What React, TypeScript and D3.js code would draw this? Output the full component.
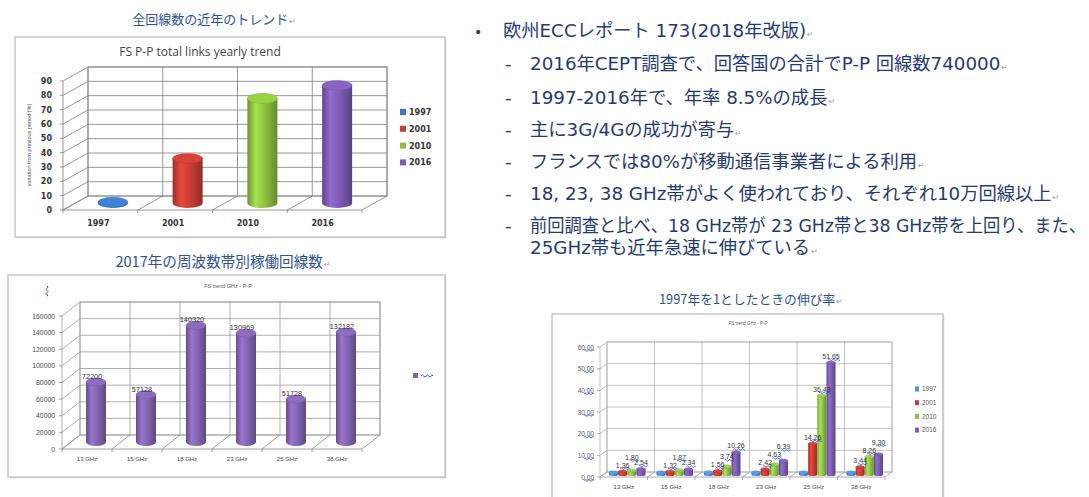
import React, { useRef, useLayoutEffect } from 'react';
import * as d3 from 'd3';

// ---------- DATA ----------
const yearSeries = ['1997', '2001', '2010', '2016'];
const totalTrendValues = [0.5, 31, 73, 82];
const totalTrendTicks = [0, 10, 20, 30, 40, 50, 60, 70, 80, 90];

const bandCategories = ['13 GHz', '15 GHz', '18 GHz', '23 GHz', '25 GHz', '38 GHz'];
const bandLinks2017 = [72200, 57128, 140320, 130969, 51728, 132182];
const bandLinkTicks = [0, 20000, 40000, 60000, 80000, 100000, 120000, 140000, 160000];

const growth1997 = [1, 1, 1, 1, 1, 1];
const growth2001 = [1.36, 1.32, 1.56, 2.42, 14.26, 3.44];
const growth2010 = [1.8, 1.87, 3.74, 4.63, 36.43, 8.26];
const growth2016 = [2.54, 2.34, 10.26, 6.39, 51.65, 9.3];
const growthLabelSeries = [false, true, true, true];
const growthTicks = [0, 10, 20, 30, 40, 50, 60];

const bulletTitle = '欧州ECCレポート 173(2018年改版)';
const bulletItems = [
  ['2016年CEPT調査で、回答国の合計でP-P 回線数740000'],
  ['1997-2016年で、年率 8.5%の成長'],
  ['主に3G/4Gの成功が寄与'],
  ['フランスでは80%が移動通信事業者による利用'],
  ['18, 23, 38 GHz帯がよく使われており、それぞれ10万回線以上'],
  ['前回調査と比べ、18 GHz帯が 23 GHz帯と38 GHz帯を上回り、また、', '25GHz帯も近年急速に伸びている'],
];

const heading1 = '全回線数の近年のトレンド';
const heading2 = '2017年の周波数帯別稼働回線数';
const heading3 = '1997年を1としたときの伸び率';
const chart1Title = 'FS P-P total links yearly trend';
const chart1YTitle = 'variation from previous period (%)';
const chart23Title = 'FS trend GHz - P-P';

// ---------- STYLE ----------
const seriesColors = ['#3a78c4', '#c63d35', '#8dc040', '#7d5bb3'];
const growthColors = ['#4f93d4', '#cc3b33', '#8fc446', '#7b5cb0'];
const bandColor = '#8264b0';
const headingColor = '#2c5193';
const textColor = '#1f3a74';
const jpFont = '"Noto Sans CJK JP", "Noto Sans", sans-serif';
const bodyFont = '"DejaVu Sans", "Noto Sans CJK JP", sans-serif';
const lat = '"Liberation Sans", Arial, sans-serif';
const textMaxRight = 1086;

function squiggle(x1: number, x2: number, y: number, amp = 1.1, period = 2.6) {
  let d = `M${x1},${y}`;
  let up = true;
  for (let x = x1; x < x2 - 0.01; x += period) {
    const nx = Math.min(x + period, x2);
    d += ` Q${(x + nx) / 2},${y + (up ? -amp : amp) * 2} ${nx},${y}`;
    up = !up;
  }
  return d;
}

function Gradients({ colors, prefix }: { colors: string[]; prefix: string }) {
  return (
    <>
      {colors.map((c, i) => {
        const base = d3.color(c)!;
        return (
          <linearGradient key={i} id={`${prefix}${i}`} x1="0" x2="1" y1="0" y2="0">
            <stop offset="0" stopColor={base.darker(0.7).formatHex()} />
            <stop offset="0.28" stopColor={base.brighter(0.45).formatHex()} />
            <stop offset="0.6" stopColor={base.formatHex()} />
            <stop offset="1" stopColor={base.darker(0.9).formatHex()} />
          </linearGradient>
        );
      })}
    </>
  );
}

function Cylinder({ cx, yBase, yTop, r, ry, fill, color }: any) {
  const body = `M${cx - r},${yTop} L${cx - r},${yBase} A${r},${ry} 0 0 0 ${cx + r},${yBase} L${cx + r},${yTop} Z`;
  const top = d3.color(color)!.brighter(0.25).formatHex();
  return (
    <g>
      <path d={body} fill={fill} />
      <ellipse cx={cx} cy={yTop} rx={r} ry={ry} fill={top} stroke={d3.color(color)!.darker(0.4).formatHex()} strokeWidth={0.4} />
    </g>
  );
}

function Frame3D({ x, y, ticks, dx, dy, grid, floor, tickLen = 3 }: any) {
  const [xa, xb] = x.range();
  const n = x.domain().length;
  const cw = (xb - xa) / n;
  const y0 = y(0);
  const yt = y(ticks[ticks.length - 1]);
  const bounds = d3.range(n + 1).map((i) => xa + i * cw);
  return (
    <g strokeWidth={0.8} fill="none">
      <rect x={xa + dx} y={yt + dy} width={xb - xa} height={y0 - yt} fill="#fff" stroke={grid} />
      {ticks.map((t: number) => (
        <line key={'h' + t} x1={xa + dx} x2={xb + dx} y1={y(t) + dy} y2={y(t) + dy} stroke={grid} />
      ))}
      {bounds.map((b, i) => (
        <line key={'v' + i} x1={b + dx} x2={b + dx} y1={yt + dy} y2={y0 + dy} stroke={grid} />
      ))}
      {ticks.map((t: number) => (
        <line key={'s' + t} x1={xa} y1={y(t)} x2={xa + dx} y2={y(t) + dy} stroke={grid} />
      ))}
      <line x1={xa} y1={y0} x2={xa} y2={yt} stroke={grid} />
      {bounds.map((b, i) => (
        <line key={'f' + i} x1={b} y1={y0} x2={b + dx} y2={y0 + dy} stroke={floor} />
      ))}
      <line x1={xa} x2={xb} y1={y0} y2={y0} stroke={floor} />
      {ticks.map((t: number) => (
        <line key={'t' + t} x1={xa - tickLen} x2={xa} y1={y(t)} y2={y(t)} stroke={floor} />
      ))}
      {bounds.map((b, i) => (
        <line key={'tb' + i} x1={b} x2={b} y1={y0} y2={y0 + tickLen} stroke={floor} />
      ))}
    </g>
  );
}

function Box({ x, y, w, h }: any) {
  return (
    <g>
      <rect x={x + 1.5} y={y + 1.5} width={w} height={h} fill="#e4e4e4" />
      <rect x={x} y={y} width={w} height={h} fill="#fff" stroke="#b8b8b8" strokeWidth={1.2} />
    </g>
  );
}

const Ret = () => (
  <tspan fontFamily='"DejaVu Sans"' fontSize={8} fill="#9a9a9a" dx={1}>↵</tspan>
);

// ---------- CHART 1 ----------
function Chart1() {
  const dx = 25, dy = -14;
  const x = d3.scaleBand().domain(yearSeries).range([63, 362]);
  const y = d3.scaleLinear().domain([0, 90]).range([210, 81]);
  return (
    <g>
      <text x={214} y={24} textAnchor="middle" fontFamily={jpFont} fontSize={13} fill={headingColor}>
        {heading1}<Ret />
      </text>
      <Box x={15} y={37} w={430} h={200} />
      <text x={200} y={56} textAnchor="middle" fontFamily='"Open Sans", sans-serif' fontSize={12} fill="#444">
        {chart1Title}
      </text>
      <Frame3D x={x} y={y} ticks={totalTrendTicks} dx={dx} dy={dy} grid="#7d7d7d" floor="#7d7d7d" />
      {totalTrendTicks.map((t) => (
        <text key={t} x={52} y={y(t) + 3} textAnchor="end" fontFamily='"DejaVu Sans"' fontWeight="bold" fontSize={8} fill="#333">
          {t}
        </text>
      ))}
      <text transform={`translate(31,${145}) rotate(-90)`} textAnchor="middle" fontFamily={lat} fontSize={5.5} fill="#555">
        {chart1YTitle}
      </text>
      {yearSeries.map((s, i) => {
        const cx = x(s)! + x.bandwidth() / 2 + dx / 2;
        const yBase = y(0) + dy / 2;
        const yTop = y(totalTrendValues[i]) + dy / 2;
        return <Cylinder key={s} cx={cx} yBase={yBase} yTop={yTop} r={15} ry={5} fill={`url(#c1g${i})`} color={seriesColors[i]} />;
      })}
      {yearSeries.map((s) => (
        <text key={s} x={x(s)! + x.bandwidth() / 2 - 2} y={226} textAnchor="middle" fontFamily='"DejaVu Sans"' fontWeight="bold" fontSize={8} fill="#333">
          {s}
        </text>
      ))}
      {yearSeries.map((s, i) => (
        <g key={s} transform={`translate(400,${112 + i * 16.8})`}>
          <rect x={0} y={-3} width={6} height={6} fill={seriesColors[i]} />
          <text x={9} y={3} fontFamily='"DejaVu Sans"' fontWeight="bold" fontSize={8} fill="#333">{s}</text>
        </g>
      ))}
    </g>
  );
}

// ---------- CHART 2 ----------
function Chart2() {
  const dx = 18, dy = -14;
  const x = d3.scaleBand().domain(bandCategories).range([62, 362]);
  const y = d3.scaleLinear().domain([0, 160000]).range([449, 316]);
  return (
    <g>
      <text x={223} y={267} textAnchor="middle" fontFamily={jpFont} fontSize={14.6} fill={headingColor}>
        {heading2}<Ret />
      </text>
      <Box x={8} y={275} w={437} h={202} />
      <text x={228} y={288} textAnchor="middle" fontFamily={lat} fontSize={5.5} fill="#555">{chart23Title}</text>
      <path d={squiggle(0, 10, 0, 1, 2.2)} transform="translate(47,286) rotate(90)" stroke="#4a3fb0" fill="none" strokeWidth={1} />
      <Frame3D x={x} y={y} ticks={bandLinkTicks} dx={dx} dy={dy} grid="#9c9c9c" floor="#8a8a8a" />
      {bandLinkTicks.map((t) => (
        <text key={t} x={55} y={y(t) + 2.5} textAnchor="end" fontFamily={lat} fontSize={6.8} fill="#444">{t}</text>
      ))}
      {bandCategories.map((c, i) => {
        const cx = x(c)! + x.bandwidth() / 2 + dx / 2;
        const yBase = y(0) + dy / 2;
        const yTop = y(bandLinks2017[i]) + dy / 2;
        return (
          <g key={c}>
            <Cylinder cx={cx} yBase={yBase} yTop={yTop} r={10} ry={4} fill="url(#c2g0)" color={bandColor} />
            <text x={cx - 4} y={yTop - 3} textAnchor="middle" fontFamily={lat} fontSize={7.3} fill="#333">{bandLinks2017[i]}</text>
          </g>
        );
      })}
      {bandCategories.map((c) => (
        <text key={c} x={x(c)! + x.bandwidth() / 2} y={461} textAnchor="middle" fontFamily={lat} fontSize={6} fill="#444">{c}</text>
      ))}
      <rect x={413} y={373} width={5} height={5} fill={bandColor} />
      <path d={squiggle(421, 433, 376)} stroke="#4a3fb0" fill="none" strokeWidth={1} />
    </g>
  );
}

// ---------- CHART 3 ----------
function Chart3() {
  const dx = 7, dy = -5;
  const series = [growth1997, growth2001, growth2010, growth2016];
  const x = d3.scaleBand().domain(bandCategories).range([600, 885]);
  const inner = d3.scaleBand().domain(yearSeries).range([0, x.bandwidth()]).paddingInner(0.02).paddingOuter(0.6);
  const y = d3.scaleLinear().domain([0, 60]).range([477, 347]);
  const fmt = d3.format('.2f');
  return (
    <g>
      <text x={751} y={304} textAnchor="middle" fontFamily={jpFont} fontSize={12.8} fill={headingColor}>
        {heading3}<Ret />
      </text>
      <Box x={552} y={314} w={391} h={195} />
      <text x={748} y={325} textAnchor="middle" fontFamily={lat} fontSize={4.5} fill="#555">{chart23Title}</text>
      <Frame3D x={x} y={y} ticks={growthTicks} dx={dx} dy={dy} grid="#b3b3b3" floor="#9a9a9a" tickLen={3} />
      {growthTicks.map((t) => (
        <g key={t}>
          <text x={594} y={y(t) + 2.5} textAnchor="end" fontFamily={lat} fontSize={6.5} fill="#556">{fmt(t)}</text>
          <path d={squiggle(584, 594, y(t) + 3.5, 0.8, 2)} stroke="#2a46d6" fill="none" strokeWidth={0.8} />
        </g>
      ))}
      {bandCategories.map((c, ci) => {
        const labels: { x: number; y: number; text: string }[] = [];
        return (
          <g key={c}>
            {yearSeries.map((s, si) => {
              const v = series[si][ci];
              const cx = x(c)! + inner(s)! + inner.bandwidth() / 2 + dx / 2;
              const yBase = y(0) + dy / 2;
              const yTop = y(v) + dy / 2;
              return <Cylinder key={s} cx={cx} yBase={yBase} yTop={yTop} r={inner.bandwidth() / 2} ry={1.6} fill={`url(#c3g${si})`} color={growthColors[si]} />;
            })}
            {yearSeries.map((s, si) => {
              if (!growthLabelSeries[si]) return null;
              const v = series[si][ci];
              const cx = x(c)! + inner(s)! + inner.bandwidth() / 2 + dx / 2;
              let ly = y(v) + dy / 2 - 4;
              const prev = labels[labels.length - 1];
              if (prev && Math.abs(prev.y - ly) < 5) ly = prev.y - 8;
              const text = fmt(v);
              labels.push({ x: cx, y: ly, text });
              const w = text.length * 3.6;
              return (
                <g key={s}>
                  <text x={cx} y={ly} textAnchor="middle" fontFamily={lat} fontSize={7} fill="#333">{text}</text>
                  <path d={squiggle(cx - w / 2 + w * 0.35, cx + w / 2, ly + 1.2, 0.8, 2)} stroke="#2a46d6" fill="none" strokeWidth={0.8} />
                </g>
              );
            })}
          </g>
        );
      })}
      {bandCategories.map((c) => (
        <text key={c} x={x(c)! + x.bandwidth() / 2} y={489} textAnchor="middle" fontFamily={lat} fontSize={6} fill="#444">{c}</text>
      ))}
      {yearSeries.map((s, i) => (
        <g key={s} transform={`translate(915,${389 + i * 13.7})`}>
          <rect x={0} y={-2.5} width={4} height={5} fill={growthColors[i]} />
          <text x={7} y={2.3} fontFamily={lat} fontSize={6.5} fill="#555">{s}</text>
        </g>
      ))}
    </g>
  );
}

// ---------- TEXT ----------
function FitText({ x, y, children }: any) {
  const ref = useRef<SVGTextElement>(null);
  useLayoutEffect(() => {
    const el = ref.current;
    if (!el) return;
    el.removeAttribute('textLength');
    const w = el.getComputedTextLength();
    const max = textMaxRight - x;
    if (w > max) {
      el.setAttribute('textLength', String(max));
      el.setAttribute('lengthAdjust', 'spacingAndGlyphs');
    }
  });
  return <text ref={ref} x={x} y={y}>{children}</text>;
}

function TextBlock() {
  const lineYs = [37, 70, 104, 136, 168, 200, 232, 254];
  let li = 1;
  return (
    <g fontFamily={bodyFont} fontSize={18.3} fill={textColor}>
      <text x={474} y={lineYs[0]} fontSize={14}>•</text>
      <text x={503} y={lineYs[0]}>{bulletTitle}<Ret /></text>
      {bulletItems.map((item, k) => {
        const start = li;
        li += item.length;
        return (
          <g key={k}>
            <text x={505} y={lineYs[start]}>-</text>
            {item.map((line, j) => (
              <FitText key={j} x={530} y={lineYs[start + j]}>
                {line}
                {j === item.length - 1 ? <Ret /> : null}
              </FitText>
            ))}
          </g>
        );
      })}
    </g>
  );
}

export default function App() {
  return (
    <svg width={1089} height={497} style={{ position: 'fixed', left: 0, top: 0, background: '#fff' }}>
      <defs>
        <Gradients colors={seriesColors} prefix="c1g" />
        <Gradients colors={[bandColor]} prefix="c2g" />
        <Gradients colors={growthColors} prefix="c3g" />
      </defs>
      <rect width={1089} height={497} fill="#fff" />
      <Chart1 />
      <Chart2 />
      <Chart3 />
      <TextBlock />
    </svg>
  );
}
